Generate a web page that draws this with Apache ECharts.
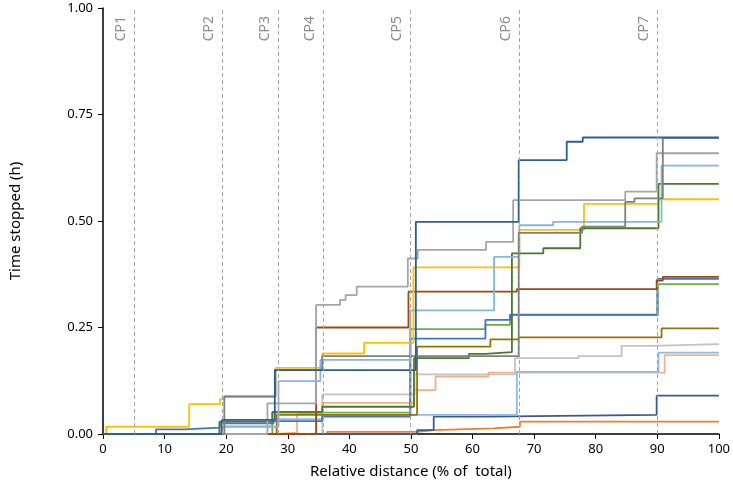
<!DOCTYPE html>
<html>
<head>
<meta charset="utf-8">
<script src="https://cdn.jsdelivr.net/npm/echarts@6/dist/echarts.min.js"></script>
<style>
  html, body { margin: 0; padding: 0; background: #fff; }
  #chart { width: 733px; height: 496px; }
</style>
</head>
<body>
<div id="chart"></div>
<script>
// checkpoints (% of total distance)
const cpNames = ["CP1", "CP2", "CP3", "CP4", "CP5", "CP6", "CP7"];
const cpPositions = [5.1, 19.4, 28.4, 35.7, 49.9, 67.6, 90.0];

// cumulative time stopped, [relative distance, hours], value holds until next point
const steelBlue = [[0, 0], [19.3, 0.033], [27.9, 0.15], [50.8, 0.498], [67.5, 0.643], [75.3, 0.686], [77.9, 0.696], [100, 0.696]];
const darkGray = [[0, 0], [19.7, 0.088], [28, 0.15], [35.6, 0.183], [67.5, 0.472], [77.8, 0.487], [84.8, 0.545], [86.3, 0.553], [90.9, 0.695], [100, 0.695]];
const gray = [[0, 0], [26.7, 0.072], [34.6, 0.303], [38.5, 0.315], [39.4, 0.326], [41.2, 0.346], [49.5, 0.412], [51.1, 0.432], [62.2, 0.451], [66.6, 0.549], [84.8, 0.569], [89.9, 0.659], [100, 0.659]];
const lightBlue = [[0, 0], [19.2, 0.017], [28.5, 0.124], [35.3, 0.174], [49.9, 0.29], [63.5, 0.416], [67.6, 0.49], [73.1, 0.498], [90.7, 0.63], [100, 0.63]];
const darkGreen = [[0, 0], [18.9, 0.029], [27.5, 0.052], [35.6, 0.064], [50.5, 0.178], [59.4, 0.188], [62.1, 0.192], [66.4, 0.424], [71.5, 0.436], [77.5, 0.483], [90.2, 0.587], [100, 0.587]];
const yellow = [[0, 0], [0.5, 0.017], [14, 0.07], [19, 0.082], [19.7, 0.088], [28, 0.155], [35.6, 0.189], [42.4, 0.214], [50.4, 0.391], [67.6, 0.479], [78.1, 0.54], [90.1, 0.551], [100, 0.551]];
const brown = [[0, 0], [34.6, 0.25], [49.6, 0.334], [67.2, 0.34], [89.9, 0.36], [90.9, 0.369], [100, 0.369]];
const blue = [[0, 0], [8.6, 0.011], [13.2, 0.015], [19, 0.025], [27.7, 0.03], [35.6, 0.041], [49.9, 0.224], [62.1, 0.268], [66.1, 0.28], [90, 0.364], [100, 0.364]];
const green = [[0, 0], [27.5, 0.05], [49.9, 0.246], [62.1, 0.256], [66.1, 0.279], [90.1, 0.352], [100, 0.352]];
const darkYellow = [[0, 0], [28.2, 0.045], [51, 0.205], [62.9, 0.222], [67.5, 0.227], [90.7, 0.248], [100, 0.248]];
const lightGray = [[0, 0], [35.6, 0.093], [50.6, 0.14], [66.9, 0.178], [77.2, 0.183], [84.2, 0.207], [89.1, 0.211], [100, 0.211]];
const paleBlue = [[0, 0], [19.2, 0.018], [27.5, 0.035], [35.6, 0.045], [67.2, 0.146], [90.2, 0.191], [100, 0.191]];
const lightOrange = [[0, 0], [28.2, 0.003], [31.5, 0.047], [35.6, 0.073], [50.5, 0.103], [54, 0.135], [62.6, 0.144], [91.2, 0.185], [100, 0.185]];
const navy = [[0, 0], [51, 0.009], [53.7, 0.041], [62.6, 0.045], [89.9, 0.09], [100, 0.09]];
const orange = [[0, 0], [36.4, 0.005], [51, 0.009], [53.7, 0.013], [63.4, 0.017], [67.7, 0.029], [100, 0.029]];

const xTicks = [0, 100, 10];
const yTicks = [0, 1, 0.25];

const font = "'Liberation Sans Narrow', 'Noto Sans', sans-serif";

const lines = [
  { data: lightGray, color: "#c3c3c3" },
  { data: orange, color: "#ed7d31" },
  { data: navy, color: "#3d5a86" },
  { data: lightOrange, color: "#f4b183" },
  { data: paleBlue, color: "#8fbce6" },
  { data: darkYellow, color: "#997300" },
  { data: green, color: "#70ad47" },
  { data: blue, color: "#4472c4" },
  { data: brown, color: "#9e480e" },
  { data: yellow, color: "#ffc000" },
  { data: darkGreen, color: "#4b7a2c" },
  { data: lightBlue, color: "#85b5e0" },
  { data: gray, color: "#a5a5a5" },
  { data: darkGray, color: "#7f7f7f" },
  { data: steelBlue, color: "#2e5e91" }
];

const series = lines.map(function (l) {
  return {
    type: "line",
    step: "end",
    data: l.data,
    showSymbol: false,
    silent: true,
    lineStyle: { color: l.color, width: 1.8 },
    z: 3
  };
});

// checkpoint dashed lines
series.push({
  type: "line",
  data: [],
  silent: true,
  markLine: {
    symbol: "none",
    silent: true,
    animation: false,
    lineStyle: { type: [4, 3], color: "#a6a6a6", width: 1 },
    label: {
      show: true,
      position: "insideEndTop",
      formatter: "{b}",
      color: "#8c8c8c",
      fontSize: 14,
      fontFamily: font,
      distance: [8, 6]
    },
    data: cpPositions.map(function (x, i) {
      return { name: cpNames[i], xAxis: x };
    })
  },
  z: 1
});

const chart = echarts.init(document.getElementById("chart"));
chart.setOption({
  animation: false,
  grid: { left: 102, right: 13, top: 8, bottom: 62 },
  xAxis: {
    type: "value",
    min: xTicks[0],
    max: xTicks[1],
    interval: xTicks[2],
    name: "Relative distance (% of  total)",
    nameLocation: "middle",
    nameGap: 30,
    nameTextStyle: { fontSize: 15, color: "#000", fontFamily: font },
    axisLine: { lineStyle: { color: "#000", width: 1.5 } },
    axisTick: { show: true, length: 5, lineStyle: { color: "#000" } },
    axisLabel: { color: "#000", fontSize: 13, fontFamily: font, margin: 9 },
    splitLine: { show: false }
  },
  yAxis: {
    type: "value",
    min: yTicks[0],
    max: yTicks[1],
    interval: yTicks[2],
    name: "Time stopped (h)",
    nameLocation: "middle",
    nameGap: 80,
    nameTextStyle: { fontSize: 15, color: "#000", fontFamily: font },
    axisLine: { show: true, lineStyle: { color: "#000", width: 1.5 } },
    axisTick: { show: true, length: 5, lineStyle: { color: "#000" } },
    axisLabel: {
      color: "#000",
      fontSize: 13,
      fontFamily: font,
      margin: 10,
      formatter: function (v) { return v.toFixed(2); }
    },
    splitLine: { show: false }
  },
  series: series
});
</script>
</body>
</html>
